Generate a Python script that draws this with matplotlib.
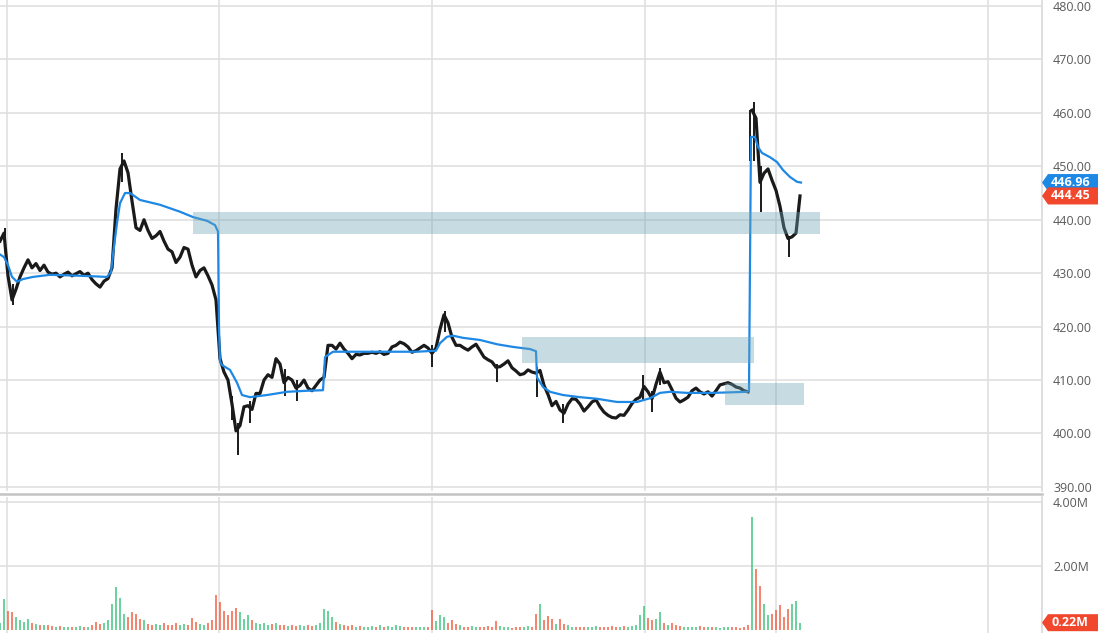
import numpy as np
import matplotlib
matplotlib.use("Agg")
import matplotlib.pyplot as plt
from matplotlib.patches import Rectangle, Polygon

plt.rcParams['font.family'] = ['Open Sans', 'DejaVu Sans']

# Zeitachse: ein Balken alle 4 Einheiten
bar_t = np.arange(0, 801, 4)

# Schlusskurse je Balken
close = [
    436.0, 437.5, 429.5, 425.0, 427.0, 429.3, 431.0, 432.5, 431.0, 431.8,
    430.5, 431.5, 430.2, 429.8, 430.0, 429.3, 429.8, 430.2, 429.5, 429.9,
    430.3, 429.6, 430.0, 428.8, 428.0, 427.4, 428.5, 429.0, 431.0, 442.0,
    449.5, 451.0, 448.8, 443.5, 438.5, 438.0, 440.0, 438.0, 436.5, 437.0,
    437.8, 436.0, 434.5, 434.0, 432.0, 433.0, 434.8, 434.5, 431.5, 429.3,
    430.5, 431.0, 429.5, 427.8, 425.0, 414.0, 411.5, 410.0, 405.5, 400.5,
    401.5, 405.0, 405.2, 404.5, 407.5, 407.5, 410.0, 411.0, 410.5, 414.0,
    413.0, 409.5, 410.5, 410.0, 408.5, 409.0, 410.0, 408.5, 408.0, 409.0,
    410.0, 410.5, 416.5, 416.5, 415.8, 416.9, 415.8, 415.0, 414.0, 414.8,
    414.7, 415.0, 415.0, 415.2, 415.0, 415.3, 414.8, 415.0, 416.2, 416.5,
    417.1, 416.8, 416.2, 415.2, 415.5, 416.0, 416.5, 416.0, 415.0, 416.0,
    419.5, 422.2, 420.7, 418.0, 416.5, 416.5, 416.0, 415.6, 416.2, 416.7,
    415.5, 414.3, 413.8, 413.4, 412.4, 412.5, 413.0, 413.6, 412.3, 411.7,
    411.0, 411.2, 411.9, 411.5, 411.3, 411.8, 409.0, 407.3, 405.2, 406.0,
    404.4, 403.8, 405.5, 406.5, 406.4, 405.5, 404.2, 405.0, 405.9, 406.3,
    405.0, 404.0, 403.4, 403.0, 402.9, 403.5, 403.4, 404.4, 405.6, 406.4,
    406.8, 408.8, 407.8, 406.5, 409.2, 411.5, 409.5, 409.7, 408.2, 406.6,
    405.9, 406.3, 406.8, 408.0, 408.5, 407.8, 407.4, 407.8, 407.0, 408.0,
    409.1, 409.3, 409.5, 409.2, 408.7, 408.5, 408.0, 407.8, 460.5, 459.0,
    447.0, 448.7, 449.5, 447.4, 445.5, 442.5, 438.5, 436.5, 436.8, 437.5,
    444.45,
]

# Umsatz in Mio.
volume = [
    0.2, 0.95, 0.6, 0.55, 0.4, 0.3, 0.25, 0.35, 0.2, 0.18,
    0.15, 0.15, 0.14, 0.12, 0.1, 0.12, 0.1, 0.09, 0.1, 0.08,
    0.12, 0.1, 0.09, 0.15, 0.25, 0.18, 0.2, 0.3, 0.8, 1.33,
    1.0, 0.5, 0.4, 0.55, 0.5, 0.35, 0.3, 0.17, 0.15, 0.18,
    0.15, 0.2, 0.14, 0.16, 0.2, 0.15, 0.18, 0.14, 0.38, 0.25,
    0.18, 0.15, 0.2, 0.3, 1.1, 0.87, 0.6, 0.45, 0.6, 0.68,
    0.55, 0.32, 0.45, 0.3, 0.2, 0.18, 0.2, 0.15, 0.18, 0.2,
    0.14, 0.16, 0.12, 0.15, 0.12, 0.14, 0.12, 0.15, 0.12, 0.15,
    0.2, 0.66, 0.6, 0.4, 0.25, 0.18, 0.15, 0.12, 0.14, 0.1,
    0.12, 0.1, 0.09, 0.12, 0.1, 0.15, 0.1, 0.12, 0.1, 0.14,
    0.12, 0.1, 0.08, 0.1, 0.08, 0.1, 0.08, 0.1, 0.62, 0.28,
    0.45, 0.4, 0.2, 0.3, 0.18, 0.15, 0.1, 0.08, 0.12, 0.08,
    0.1, 0.08, 0.12, 0.1, 0.28, 0.12, 0.08, 0.1, 0.06, 0.08,
    0.1, 0.08, 0.12, 0.1, 0.48, 0.8, 0.3, 0.42, 0.35, 0.18,
    0.35, 0.18, 0.15, 0.1, 0.08, 0.1, 0.08, 0.1, 0.08, 0.12,
    0.1, 0.08, 0.1, 0.12, 0.1, 0.08, 0.12, 0.1, 0.12, 0.15,
    0.45, 0.73, 0.38, 0.3, 0.35, 0.55, 0.2, 0.15, 0.2, 0.15,
    0.12, 0.1, 0.08, 0.1, 0.07, 0.12, 0.1, 0.08, 0.1, 0.08,
    0.06, 0.1, 0.08, 0.07, 0.08, 0.06, 0.1, 0.15, 3.55, 1.9,
    1.36, 0.82, 0.45, 0.5, 0.62, 0.76, 0.4, 0.64, 0.82, 0.9,
    0.22,
]

# Dochte an auffaelligen Stellen (t, tief, hoch)
wick_t = [5, 13, 122, 232, 238, 250, 285, 297, 432, 445, 497, 537, 563,
          643, 652, 660, 750, 754, 761, 789]
wick_low = [434.0, 424.0, 447.0, 402.5, 396.0, 402.0, 407.0, 406.0, 412.5,
            419.0, 409.6, 406.8, 402.0, 406.0, 404.0, 409.0, 451.0, 451.0,
            441.5, 433.0]
wick_high = [438.5, 428.0, 452.5, 407.0, 402.0, 406.0, 412.0, 410.0, 416.5,
             423.0, 413.0, 412.5, 405.5, 411.0, 408.0, 412.3, 460.5, 462.0,
             450.0, 437.0]

# VWAP
vwap_t = [0, 4, 8, 12, 17, 23, 33, 50, 83, 107, 111, 114, 117, 120, 125, 130,
          140, 160, 180, 193, 207, 215, 218, 219, 220, 222, 230, 237, 242, 250,
          267, 287, 307, 323, 325, 333, 350, 383, 417, 436, 440, 447, 453, 463,
          480, 497, 513, 530, 536, 537, 543, 550, 563, 580, 597, 617, 637, 650,
          660, 670, 687, 713, 747, 749, 751, 755, 758, 762, 770, 777, 783, 790,
          797, 801]
vwap = [433.5, 433.0, 431.5, 429.3, 428.4, 428.9, 429.3, 429.7, 429.5, 429.3,
        430.2, 435.0, 439.4, 443.1, 445.0, 445.0, 443.7, 442.8, 441.5, 440.5,
        439.8, 439.0, 437.8, 420.0, 413.5, 412.8, 411.9, 409.5, 407.2, 406.8,
        407.2, 407.8, 408.0, 408.1, 414.3, 415.3, 415.3, 415.3, 415.3, 415.5,
        416.9, 418.1, 418.3, 417.9, 417.5, 416.7, 416.2, 415.8, 415.4, 410.5,
        408.7, 407.8, 407.2, 406.8, 406.5, 405.9, 405.9, 406.6, 407.6, 407.8,
        407.6, 407.6, 407.8, 408.1, 455.5, 455.5, 453.6, 452.5, 451.7, 450.8,
        449.3, 448.0, 447.1, 446.96]

# Zonen (t von, t bis, unten, oben)
zone_t0 = [193, 522, 725]
zone_t1 = [820, 754, 804]
zone_lo = [437.3, 413.2, 405.3]
zone_hi = [441.45, 418.1, 409.5]

grid_t = [7, 219, 432, 645, 776, 988]
price_ticks = np.arange(390, 481, 10)
vol_ticks = [2, 4]
session_start = 750

W, H = 1098, 633
fig = plt.figure(figsize=(W / 100, H / 100), dpi=100)
ax = fig.add_axes([0, 1 - 491 / H, 1042 / W, 491 / H])
axv = fig.add_axes([0, 0, 1042 / W, 136 / H])

grid_col = '#e0e0e0'
for a in (ax, axv):
    a.set_xlim(0, 1042)
    a.set_xticks(grid_t)
    a.tick_params(axis='x', length=0, labelbottom=False)
    a.grid(True, color=grid_col, lw=1.2)
    a.set_axisbelow(True)
    for s in ('top', 'left', 'bottom'):
        a.spines[s].set_visible(False)
    a.spines['right'].set_color('#d9d9d9')
    a.spines['right'].set_linewidth(1.2)
    a.yaxis.tick_right()
    a.tick_params(axis='y', length=0, pad=8, labelsize=9, labelcolor='#5a5a5a')

# Kurs
close = np.array(close)
t = bar_t
m = t < session_start
ax.plot(t[m], close[m], color='#1a1a1a', lw=2.3, zorder=3)
ax.plot(t[~m], close[~m], color='#1a1a1a', lw=2.3, zorder=3)
ax.vlines(wick_t, wick_low, wick_high, color='#1a1a1a', lw=1.4, zorder=3)
ax.plot(vwap_t, vwap, color='#1e88e5', lw=1.6, zorder=4)

for x0, x1, lo, hi in zip(zone_t0, zone_t1, zone_lo, zone_hi):
    ax.add_patch(Rectangle((x0, lo), x1 - x0, hi - lo, facecolor='#6ea5b4',
                           alpha=0.38, edgecolor='none', zorder=5))

ax.set_ylim(389.24, 481.12)
ax.set_yticks(price_ticks)
ax.set_yticklabels([f"{v:.2f}" for v in price_ticks])

# Umsatz
up = np.diff(np.concatenate([[close[0]], close])) >= 0
cols = np.where(up, '#3cc47c', '#f25c3f')
axv.bar(t, volume, width=2.6, color=cols, alpha=0.75, zorder=3)
axv.set_ylim(-0.104, 4.166)
axv.set_yticks(vol_ticks)
axv.set_yticklabels([f"{v:.2f}M" for v in vol_ticks])

# Trennlinie
fig.add_artist(plt.Line2D([0, 1042 / W], [1 - 493.5 / H] * 2,
                          transform=fig.transFigure, color='#c4c4c4', lw=1.8))


def tag(axis, value, text, color):
    fig.canvas.draw()
    yd = axis.transData.transform((0, value))[1]
    yf = yd / H
    h = 8.5 / H
    pts = [(1042 / W, yf), (1048 / W, yf + h), (1.0, yf + h),
           (1.0, yf - h), (1048 / W, yf - h)]
    fig.add_artist(Polygon(pts, closed=True, transform=fig.transFigure,
                           facecolor=color, edgecolor='none'))
    fig.text(1051 / W, yf, text, color='white', fontsize=9, fontweight='bold',
             ha='left', va='center')


tag(ax, vwap[-1], f"{vwap[-1]:.2f}", '#1e88e5')
tag(ax, close[-1], f"{close[-1]:.2f}", '#f0472d')
tag(axv, volume[-1], f"{volume[-1]:.2f}M", '#f0472d')

fig.savefig('out.png', dpi=100)
